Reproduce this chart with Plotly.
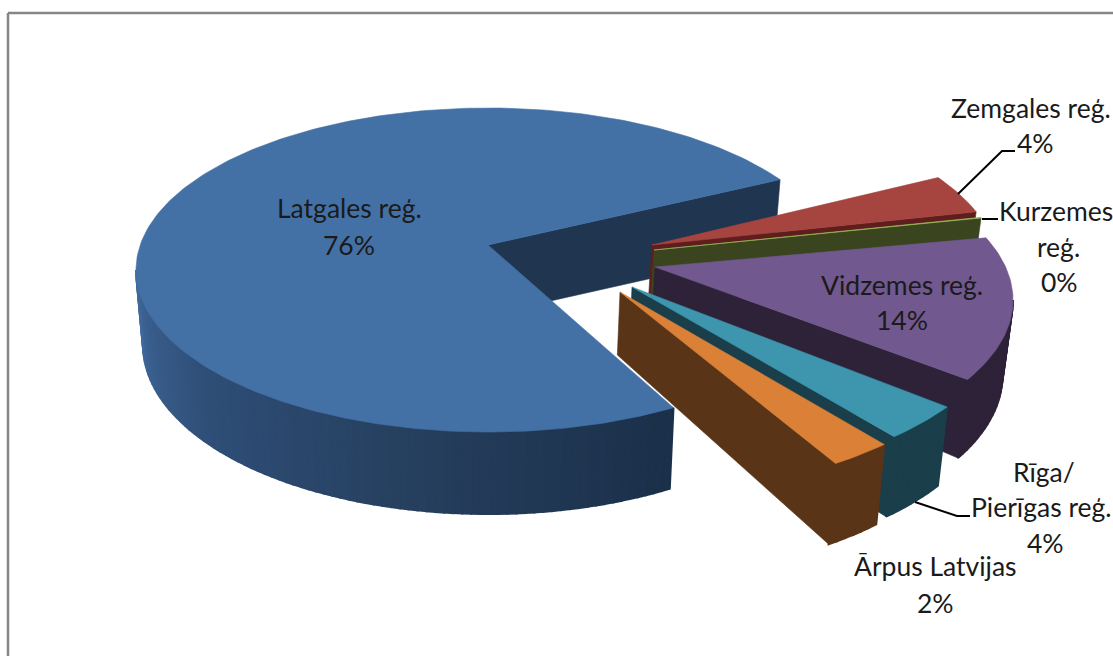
import math
import plotly.graph_objects as go

# --- data ---
regions = ["Latgales reģ.", "Zemgales reģ.", "Kurzemes reģ.", "Vidzemes reģ.", "Rīga/Pierīgas reģ.", "Ārpus Latvijas"]
shares = [76, 4, 0.4, 14, 4, 2]

# --- styling / layout of the 3-D projection ---
top_colors = ["#4371a6", "#a64440", "#9bbb59", "#71588f", "#3d96ae", "#da8137"]
wall_colors = ["#1f3550", "#5f1e1d", "#3a4520", "#2d2238", "#1a3e4a", "#5a3417"]
RX, RY = 352, 162
rim_centers = [(488, 270), (646, 268), (650, 273), (661, 300), (650, 320), (633, 331)]
apexes = [(488, 245), (652, 245), (654, 250), (655, 267), (632, 287), (620, 292)]
apex_depth = [70, 50, 50, 60, 70, 63]
sweep_warp = [0.983, 0.95, 0.3, 1.036, 0.95, 1.45]
angle_shift = [0, 0, 0, -2.7, 3, -1.6]
START = 58.2
VANISH_X, VANISH_K = 488, 0.02
gradient = [(0.0, (0x1b, 0x30, 0x49)), (0.35, (0x26, 0x3f, 0x5e)), (0.7, (0x2f, 0x4f, 0x78)), (1.0, (0x41, 0x69, 0x9b))]


def rim(i, t):
    cx, cy = rim_centers[i]
    a = math.radians(t)
    return cx + RX * math.cos(a), cy + RY * math.sin(a)


def depth(t):
    return 75 + 7 * math.sin(math.radians(t))


def low(x):
    return x + (VANISH_X - x) * VANISH_K


def grad(f):
    for (f0, c0), (f1, c1) in zip(gradient, gradient[1:]):
        if f <= f1:
            k = (f - f0) / (f1 - f0)
            return "rgb(%d,%d,%d)" % tuple(c0[j] + k * (c1[j] - c0[j]) for j in range(3))
    return "rgb(%d,%d,%d)" % gradient[-1][1]


def poly(xs, ys, color, lw=0.6):
    return go.Scatter(x=xs + xs[:1], y=ys + ys[:1], mode="lines", fill="toself", fillcolor=color,
                      line=dict(color=color, width=lw), hoverinfo="skip", showlegend=False)


total = sum(shares)
spans = []
cur = START
for i, v in enumerate(shares):
    t1 = cur + angle_shift[i]
    t2 = t1 + v / total * 360 * sweep_warp[i]
    spans.append((t1, t2))
    cur = t2

fig = go.Figure()
for i in range(len(shares)):
    t1, t2 = spans[i]
    ax, ay = apexes[i]
    # cut face at the end of the sweep
    ex, ey = rim(i, t2)
    fig.add_trace(poly([ax, ex, low(ex), low(ax)], [ay, ey, ey + depth(t2), ay + apex_depth[i]], wall_colors[i]))
    # outer wall: only the part of the rim that faces the viewer
    for lo, hi in ((0, 180), (360, 540)):
        a0, a1 = max(t1, lo), min(t2, hi)
        if a1 <= a0:
            continue
        n = max(2, int((a1 - a0) / 1.5))
        for k in range(n):
            u0 = a0 + (a1 - a0) * k / n
            u1 = a0 + (a1 - a0) * (k + 1) / n
            x0, y0 = rim(i, u0)
            x1, y1 = rim(i, u1)
            color = grad((k + 0.5) / n) if i == 0 else wall_colors[i]
            fig.add_trace(poly([x0, x1, low(x1), low(x0)], [y0, y1, y1 + depth(u1), y0 + depth(u0)], color, lw=2))
    # top face
    n = max(2, int((t2 - t1) / 1.0))
    xs, ys = [ax], [ay]
    for k in range(n + 1):
        x, y = rim(i, t1 + (t2 - t1) * k / n)
        xs.append(x)
        ys.append(y)
    fig.add_trace(poly(xs, ys, top_colors[i]))

# leader lines
leader_x = [[958, 1002, 1015], [982, 998], [915, 957, 970]]
leader_y = [[194, 151, 151], [219, 219], [502, 516, 516]]
for lx, ly in zip(leader_x, leader_y):
    fig.add_trace(go.Scatter(x=lx, y=ly, mode="lines", line=dict(color="#000000", width=2),
                             hoverinfo="skip", showlegend=False))

# labels, one line at a time
label_lines = ["Latgales reģ.", "76%", "Zemgales reģ.", "4%", "Kurzemes", "reģ.", "0%",
               "Vidzemes reģ.", "14%", "Rīga/", "Pierīgas reģ.", "4%", "Ārpus Latvijas", "2%"]
label_x = [349, 349, 1031, 1035, 1056, 1058, 1059, 902, 902, 1044, 1041, 1045, 935, 935]
label_y = [208, 245, 108, 143, 211, 247, 282, 285, 320, 472, 507, 543, 566, 603]
for s, x, y in zip(label_lines, label_x, label_y):
    fig.add_annotation(x=x, y=y, text=s, showarrow=False, xanchor="center", yanchor="middle",
                       font=dict(family="Lato, Carlito, sans-serif", size=26.5, color="#1a1a1a"))

FRAME = "#868686"
fig.add_shape(type="line", x0=8, x1=1113, y0=13, y1=13, line=dict(color=FRAME, width=2.5))
fig.add_shape(type="line", x0=8, x1=8, y0=13, y1=656, line=dict(color=FRAME, width=2.5))

fig.update_layout(width=1113, height=656, margin=dict(l=0, r=0, t=0, b=0),
                  paper_bgcolor="#ffffff", plot_bgcolor="#ffffff", showlegend=False,
                  xaxis=dict(range=[0, 1113], visible=False, fixedrange=True),
                  yaxis=dict(range=[656, 0], visible=False, fixedrange=True))
fig.write_html("out.html", config=dict(displayModeBar=False),
               post_script="document.body.style.margin='0';document.body.style.overflow='hidden';")
